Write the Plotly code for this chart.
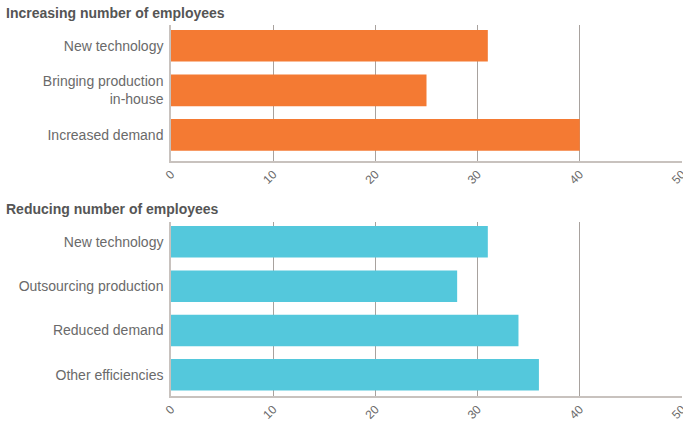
import plotly.graph_objects as go

top_title = "Increasing number of employees"
top_categories = ["New technology", "Bringing production<br>in-house", "Increased demand"]
top_values = [31, 25, 40]

bottom_title = "Reducing number of employees"
bottom_categories = ["New technology", "Outsourcing production", "Reduced demand", "Other efficiencies"]
bottom_values = [31, 28, 34, 36]

x_ticks = [0, 10, 20, 30, 40, 50]

W, H = 683, 421
ORANGE = "#F47A33"
CYAN = "#54C8DC"
GRID = "#A8A29E"
TEXT = "#6a6a6a"
TITLE = "#555555"
FONT = "Liberation Sans, Arial, sans-serif"

fig = go.Figure()
fig.add_trace(go.Bar(x=top_values, y=top_categories, orientation="h",
                     marker=dict(color=ORANGE, line=dict(width=0)),
                     xaxis="x", yaxis="y", hoverinfo="x+y"))
fig.add_trace(go.Bar(x=bottom_values, y=bottom_categories, orientation="h",
                     marker=dict(color=CYAN, line=dict(width=0)),
                     xaxis="x2", yaxis="y2", hoverinfo="x+y"))

def px_dom(top_px, bot_px):
    return [1 - bot_px / H, 1 - top_px / H]

PW = W - 171 - 1

xcommon = dict(range=[0, 50], tickvals=x_ticks, tickangle=-45,
               showgrid=True, gridcolor=GRID, gridwidth=1,
               showline=True, linecolor="#C8C2BE", linewidth=1.5,
               ticks="", ticklabeloverflow="allow", ticklabelstandoff=0,
               zeroline=False, fixedrange=True,
               tickfont=dict(family=FONT, size=12, color=TEXT),
               automargin=False)
ycommon = dict(type="category", showgrid=False, zeroline=False,
               showline=True, linecolor="#C8C2BE", linewidth=1.5,
               ticks="", ticklabelstandoff=3,
               tickfont=dict(family=FONT, size=14, color=TEXT),
               automargin=False, fixedrange=True)

fig.update_layout(
    width=W, height=H,
    margin=dict(l=171, r=1, t=0, b=0),
    paper_bgcolor="white", plot_bgcolor="white",
    showlegend=False, bargap=0.29,
    xaxis=dict(domain=[0, 1], anchor="y", **xcommon),
    yaxis=dict(domain=px_dom(25, 161), anchor="x",
               range=[2.586, -0.467], **ycommon),
    xaxis2=dict(domain=[0, 1], anchor="y2", **xcommon),
    yaxis2=dict(domain=px_dom(221.7, 396), anchor="x2",
                range=[3.478, -0.454], **ycommon),
    annotations=[
        dict(text="<b>" + top_title + "</b>", xref="paper", yref="paper",
             x=(-171 + 4) / PW, y=1 - 13 / H, xanchor="left", yanchor="middle",
             showarrow=False, font=dict(family=FONT, size=14, color=TITLE)),
        dict(text="<b>" + bottom_title + "</b>", xref="paper", yref="paper",
             x=(-171 + 4) / PW, y=1 - 209 / H, xanchor="left", yanchor="middle",
             showarrow=False, font=dict(family=FONT, size=14, color=TITLE)),
    ],
)

fig.write_html("out.html", config={"displayModeBar": False},
               post_script="document.body.style.margin='0';document.body.style.overflow='hidden';")
